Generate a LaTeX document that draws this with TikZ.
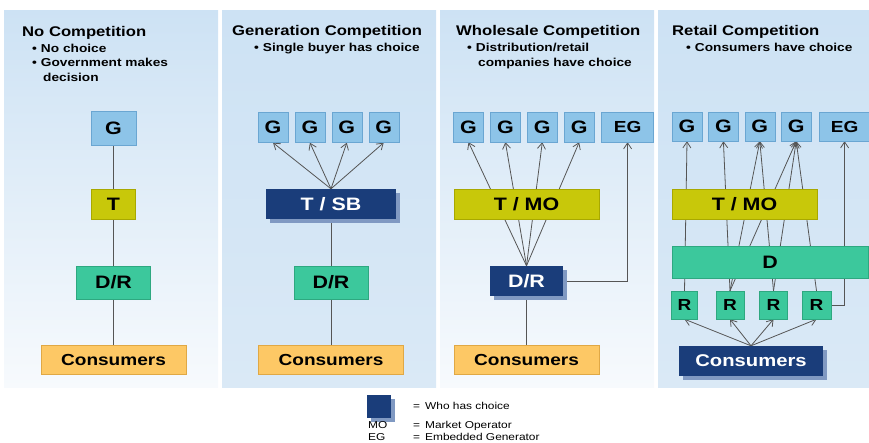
\documentclass[tikz,border=0pt]{standalone}
\usepackage{fontspec}
\setmainfont{Liberation Sans}[FakeStretch=1.19]
\usetikzlibrary{arrows.meta, positioning, shadows}
\definecolor{gfill}{HTML}{8DC4E8}
\definecolor{gline}{HTML}{6AA6D2}
\definecolor{tfill}{HTML}{C8C80A}
\definecolor{tline}{HTML}{A8A800}
\definecolor{dfill}{HTML}{3CC89C}
\definecolor{dline}{HTML}{2EA880}
\definecolor{cfill}{HTML}{FDC865}
\definecolor{cline}{HTML}{E0A845}
\definecolor{navy}{HTML}{1A3D7A}
\definecolor{navyshadow}{HTML}{8099C2}
\definecolor{linkgray}{HTML}{555555}
\definecolor{paneltop}{HTML}{CDE2F4}
\definecolor{panelwhite}{HTML}{F7FAFD}
\definecolor{panelblue}{HTML}{DAE9F6}
\pgfdeclarelayer{panels}
\pgfdeclarelayer{links}
\pgfsetlayers{panels,links,main}
\tikzset{
    block/.style={rectangle, inner sep=0pt, text centered, font=\bfseries\fontsize{18}{20}\selectfont},
    block_gen/.style={block, draw=gline, fill=gfill, minimum width=30pt, minimum height=30pt},
    block_olive/.style={block, draw=tline, fill=tfill, minimum height=30pt},
    block_teal/.style={block, draw=dline, fill=dfill, minimum height=32pt},
    block_orange/.style={block, draw=cline, fill=cfill, minimum width=145pt, minimum height=29pt, font=\bfseries\fontsize{16}{18}\selectfont},
    block_navy/.style={block, fill=navy, text=white, minimum height=30pt,
        drop shadow={shadow xshift=4pt, shadow yshift=-4pt, fill=navyshadow, opacity=1}},
    small_label/.style={font=\bfseries\fontsize{16}{18}\selectfont},
    title/.style={anchor=base west, inner sep=0pt, font=\bfseries\fontsize{14}{16}\selectfont},
    bullet/.style={anchor=base west, inner sep=0pt, font=\bfseries\fontsize{11.5}{13}\selectfont},
    legend/.style={anchor=base west, inner sep=0pt, font=\fontsize{10}{12}\selectfont},
    link/.style={draw=linkgray, line width=0.8pt},
    arrow/.style={link, -{Straight Barb[length=6pt, width=8pt]}}
}

\begin{document}
\begin{tikzpicture}[x=1pt, y=-1pt, node distance=6.5pt]
    \useasboundingbox (0,0) rectangle (869,442);
    % panels
    \begin{pgfonlayer}{panels}
        \shade[top color=paneltop, bottom color=panelwhite] (4,10) rectangle (218,387);
        \shade[top color=paneltop, bottom color=panelblue] (222,10) rectangle (436,387);
        \shade[top color=paneltop, bottom color=panelwhite] (440,10) rectangle (654,387);
        \shade[top color=paneltop, bottom color=panelblue] (658,10) rectangle (869,387);
    \end{pgfonlayer}

    % No competition
    \node (ttl1) [title] at (22,36) {No Competition};
    \node (bul1a) [bullet] at (32,52) {\textbullet\hspace{4pt}No choice};
    \node (bul1b) [bullet] at (32,66.5) {\textbullet\hspace{4pt}Government makes};
    \node (bul1c) [bullet] at (43,81) {decision};
    \node (g1) [block_gen, minimum width=45pt, minimum height=34pt] at (113.5,128) {G};
    \node (t1) [block_olive, minimum width=44pt] at (113.5,204) {T};
    \node (dr1) [block_teal, minimum width=74pt, minimum height=33pt] at (113.5,282.5) {D/R};
    \node (con1) [block_orange] at (113.5,359.5) {Consumers};

    % Generation competition
    \node (ttl2) [title] at (232,35) {Generation Competition};
    \node (bul2a) [bullet] at (254,51) {\textbullet\hspace{4pt}Single buyer has choice};
    \node (gb1) [block_gen] at (273,127.5) {G};
    \node (gb2) [block_gen, right=of gb1] {G};
    \node (gb3) [block_gen, right=of gb2] {G};
    \node (gb4) [block_gen, right=of gb3] {G};
    \node (tsb) [block_navy, minimum width=130pt] at (331,204) {T / SB};
    \node (dr2) [block_teal, minimum width=74pt, minimum height=33pt] at (331,282.5) {D/R};
    \node (con2) [block_orange] at (331,360) {Consumers};

    % Wholesale competition
    \node (ttl3) [title] at (456,35) {Wholesale Competition};
    \node (bul3a) [bullet] at (467,51) {\textbullet\hspace{4pt}Distribution/retail};
    \node (bul3b) [bullet] at (478,66) {companies have choice};
    \node (gc1) [block_gen] at (468.5,127) {G};
    \node (gc2) [block_gen, right=of gc1] {G};
    \node (gc3) [block_gen, right=of gc2] {G};
    \node (gc4) [block_gen, right=of gc3] {G};
    \node (egc) [block_gen, minimum width=52pt, right=7pt of gc4, small_label] {EG};
    \node (tmo3) [block_olive, minimum width=145pt] at (526.5,204) {T / MO};
    \node (dr3) [block_navy, minimum width=73pt] at (526.5,281) {D/R};
    \node (con3) [block_orange] at (526.5,360) {Consumers};

    % Retail competition
    \node (ttl4) [title] at (672,35) {Retail Competition};
    \node (bul4a) [bullet] at (686,51) {\textbullet\hspace{4pt}Consumers have choice};
    \node (gd1) [block_gen, minimum height=29pt] at (687,126.5) {G};
    \node (gd2) [block_gen, minimum height=29pt, right=6pt of gd1] {G};
    \node (gd3) [block_gen, minimum height=29pt, right=6pt of gd2] {G};
    \node (gd4) [block_gen, minimum height=29pt, right=6pt of gd3] {G};
    \node (egd) [block_gen, minimum width=51pt, minimum height=29pt, right=7.5pt of gd4, small_label] {EG};
    \node (tmo4) [block_olive, minimum width=145pt] at (744.5,204) {T / MO};
    \node (d4) [block_teal, minimum width=196pt] at (770,262) {D};
    \node (r1) [block_teal, minimum width=26pt, minimum height=28pt, small_label] at (684.5,305) {R};
    \node (r2) [block_teal, minimum width=28pt, minimum height=28pt, small_label] at (730,305) {R};
    \node (r3) [block_teal, minimum width=28pt, minimum height=28pt, small_label] at (773.5,305) {R};
    \node (r4) [block_teal, minimum width=29pt, minimum height=28pt, small_label] at (816.5,305) {R};
    \node (con4) [block_navy, minimum width=144pt, font=\bfseries\fontsize{17}{19}\selectfont] at (751,361) {Consumers};

    % legend
    \node (key) [block_navy, minimum width=24pt, minimum height=23pt] at (379,406) {};
    \node (keytxt) [legend] at (413,409.5) {=\hspace{5pt}Who has choice};
    \node (mo) [legend] at (368,428.5) {MO};
    \node (motxt) [legend] at (413,428.5) {=\hspace{5pt}Market Operator};
    \node (eg) [legend] at (368,440) {EG};
    \node (egtxt) [legend] at (413,440) {=\hspace{5pt}Embedded Generator};

    \begin{pgfonlayer}{links}
        \draw [link] (g1) -- (t1);
        \draw [link] (t1) -- (dr1);
        \draw [link] (dr1) -- (con1);

        \foreach \i in {1,...,4}
            \draw [arrow] (tsb.north) -- (gb\i.south);
        \draw [link] (tsb) -- (dr2);
        \draw [link] (dr2) -- (con2);

        \foreach \i in {1,...,4}
            \draw [arrow] (dr3.north) -- (gc\i.south);
        \draw [arrow] (dr3.east) -| (egc.south);
        \draw [link] (dr3) -- (con3);

        \foreach \i in {1,...,4}
            \draw [arrow] (con4.north) -- (r\i.south);
        \draw [arrow] (r1.north) -- (gd1.south);
        \foreach \j in {2,3,4}
            \draw [arrow] (r2.north) -- (gd\j.south);
        \foreach \j in {3,4}
            \draw [arrow] (r3.north) -- (gd\j.south);
        \draw [arrow] (r4.north) -- (gd4.south);
        \draw [arrow] (r4.east) -| (egd.south);
    \end{pgfonlayer}
\end{tikzpicture}
\end{document}
